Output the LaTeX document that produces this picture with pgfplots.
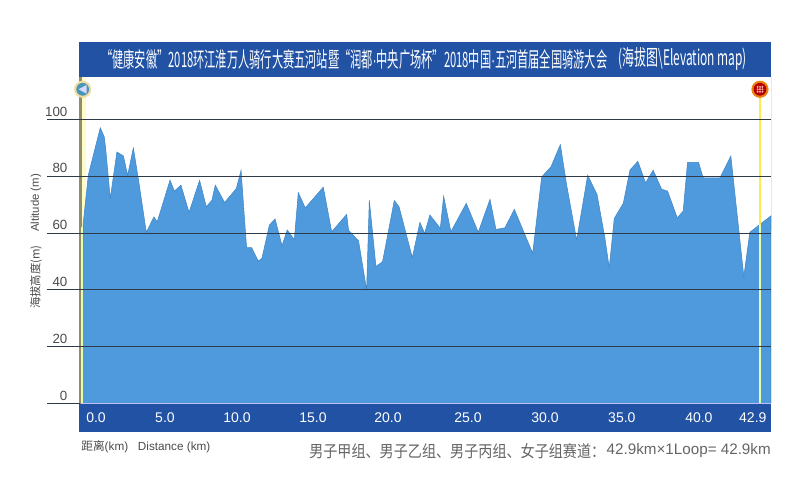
\documentclass[border=0pt]{standalone}
\usepackage{fontspec}
\usepackage{pgfplots}
\pgfplotsset{compat=1.18}
\setmainfont{Liberation Sans}
\newfontfamily\cjk{Noto Sans CJK SC}
\definecolor{barblue}{HTML}{2152A3}
\definecolor{fillblue}{HTML}{4F9ADD}
\definecolor{edgeblue}{HTML}{3F86C6}
\definecolor{gridc}{HTML}{2F3A48}
\definecolor{textc}{HTML}{4A4A4A}
\newcommand{\mdot}{{\rmfamily ·}}

\begin{document}
\begin{tikzpicture}
% pixel coordinates of the 800x478 image, y going down
\path[use as bounding box] (0,0) rectangle (600pt,358.5pt);
\begin{scope}[x=0.75pt,y=-0.75pt,yshift=358.5pt]
  \fill[barblue] (79,42) rectangle (771,77);
  \fill[barblue] (79,404) rectangle (770.5,432);
  \fill[yellow!22!white] (82,77) rectangle (86,404);
  \fill[gray!75!olive] (79.3,77) rectangle (82,404);
  \draw[blue!10!white,line width=0.6pt] (771.5,77) -- (771.5,230);
  \node[white,inner sep=0pt,anchor=west] at (101,59) {\resizebox{379.5pt}{13.5pt}{\cjk “健康安徽”2018环江淮万人骑行大赛五河站暨“润都\mdot 中央广场杯”2018中国\mdot 五河首届全国骑游大会}};
  \node[white,inner sep=0pt,anchor=east] at (747,59) {\resizebox{96pt}{13.5pt}{\cjk (海拔图\textbackslash Elevation map)}};
  \node[textc,inner sep=0pt,anchor=west,font=\fontsize{8.8}{10}\selectfont] at (81,447) {{\cjk 距离}(km)\ \ \ Distance (km)};
  \node[textc!85!white,inner sep=0pt,anchor=west] at (309,451) {\resizebox{222pt}{10.5pt}{\cjk 男子甲组、男子乙组、男子丙组、女子组赛道：}};
  \node[textc!85!white,inner sep=0pt,anchor=east,font=\fontsize{10.5}{12}\selectfont] at (771,451) {\resizebox{123pt}{!}{42.9km×1Loop= 42.9km}};
  \node[textc,inner sep=0pt,rotate=90,font=\fontsize{8.5}{10}\selectfont] at (36,203) {Altitude (m)};
  \node[textc,inner sep=0pt,rotate=90,font=\fontsize{8.5}{10}\selectfont\cjk] at (36,277) {海拔高度(m)};
\end{scope}

\begin{axis}[
  at={(35.25pt,55.875pt)},anchor=south west,
  scale only axis,width=543pt,height=244.875pt,
  xmin=-2.18,xmax=43.6,ymin=0,ymax=115,
  axis line style={draw=none},
  axis on top,
  major tick length=0pt,
  xtick={0.92,5.28,9.83,14.64,19.38,24.44,29.31,34.17,39.04,42.45},
  xticklabels={0.0,5.0,10.0,15.0,20.0,25.0,30.0,35.0,40.0,42.9},
  xticklabel style={white,anchor=center,yshift=-10.9pt,font=\fontsize{10.5}{12}\selectfont},
  ytick={20,40,60,80,100},
  extra y ticks={0},
  extra y tick style={grid=none},
  ymajorgrids,
  grid style={gridc,line width=0.8pt},
  yticklabel style={textc,anchor=south east,inner sep=0pt,xshift=15.5pt,yshift=2.3pt,font=\fontsize{10}{12}\selectfont,
    /pgf/number format/assume math mode=true},
]
\addplot[fill=fillblue,draw=edgeblue,line width=0.4pt] coordinates {
  (0.05,0) (0.10,62.8) (0.43,80.4) (1.19,97.1) (1.44,93.9) (1.53,89.8) (1.82,72.2)
  (2.24,88.6) (2.65,87.2) (2.92,80.4) (3.28,90.0) (3.59,79.3) (4.10,60.3) (4.58,65.7)
  (4.79,64.0) (5.60,78.7) (5.87,74.8) (6.29,76.9) (6.80,67.3) (7.47,78.6) (7.89,69.3)
  (8.25,71.6) (8.46,76.9) (9.05,70.8) (9.79,75.7) (10.09,82.1) (10.44,54.9) (10.76,54.9)
  (11.18,50.2) (11.41,51.1) (11.88,62.8) (12.24,65.0) (12.68,55.6) (13.01,61.1)
  (13.46,57.7) (13.71,74.3) (14.15,68.9) (15.29,76.2) (15.82,60.5) (16.77,66.6)
  (16.89,61.0) (17.52,57.3) (18.03,40.0) (18.20,71.6) (18.62,48.2) (19.04,50.0)
  (19.78,71.5) (20.08,69.3) (20.92,51.4) (21.40,63.8) (21.70,59.9) (22.03,66.4)
  (22.69,61.7) (22.90,73.0) (23.36,60.5) (24.33,70.5) (25.09,60.3) (25.83,71.9)
  (26.21,61.3) (26.78,61.9) (27.37,68.4) (28.53,52.9) (29.10,79.8) (29.69,83.4)
  (30.28,91.2) (30.68,76.9) (31.31,57.6) (32.01,80.4) (32.60,73.6) (33.10,58.2)
  (33.37,47.8) (33.69,65.2) (34.26,70.5) (34.68,82.2) (35.18,85.3) (35.67,77.7)
  (36.15,82.2) (36.68,75.5) (37.06,74.8) (37.67,65.4) (38.05,67.8) (38.32,84.9)
  (39.02,84.9) (39.31,79.5) (40.37,79.5) (41.06,87.2) (41.88,44.7) (42.26,60.3)
  (43.60,66.1) (43.60,0)
} \closedcycle;
% start and finish lines
\addplot[green!30!yellow!35!white,line width=0.9pt] coordinates {(0.03,0) (0.03,62)};
\addplot[green!30!yellow!35!white,line width=0.9pt] coordinates {(42.9,0) (42.9,63)};
\addplot[yellow!85!orange!70!white,line width=1.2pt] coordinates {(42.9,63) (42.9,110)};
% ground line
\addplot[blue!25!white,line width=0.8pt] coordinates {(0,0) (43.6,0)};
\addplot[gridc,line width=0.8pt] coordinates {(-2.18,0) (-0.1,0)};
\end{axis}

\begin{scope}[x=0.75pt,y=-0.75pt,yshift=358.5pt]
  % start badge
  \fill[yellow!40!brown!45!white] (82.7,89.3) circle (8.6);
  \fill[blue!30!cyan!45!gray] (82.7,89.3) circle (6.4);
  \fill[white!85!blue] (78.5,89.3) -- (86.5,85) -- (86.5,93.6) -- cycle;
  % finish badge
  \fill[orange!70!brown] (760,89.3) circle (8.6);
  \fill[red!70!black] (760,89.3) circle (6.4);
  \foreach \dx in {-2.4,0,2.4}
    \foreach \dy in {-2.4,0,2.4}
      \fill[red!30!white] (760+\dx,89.3+\dy) circle (1.1);
\end{scope}
\end{tikzpicture}
\end{document}
